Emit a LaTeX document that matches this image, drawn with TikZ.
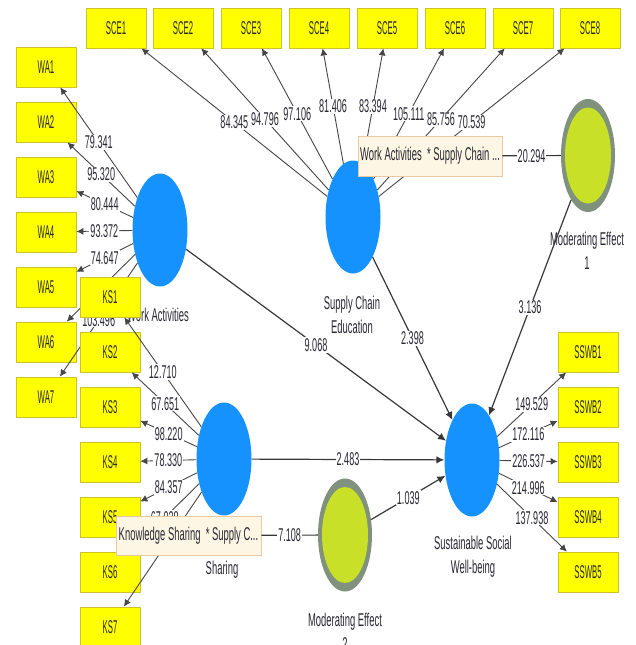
\documentclass[tikz,border=0pt]{standalone}
\usepackage{fontspec}
\usetikzlibrary{shapes.geometric,arrows.meta}
\newfontfamily\boxfont[FakeStretch=0.42]{Liberation Sans}
\newfontfamily\numfont[FakeStretch=0.49]{Liberation Sans}
\newfontfamily\labfont[FakeStretch=0.51]{Liberation Sans}
\definecolor{boxyellow}{RGB}{255,255,0}
\definecolor{boxedge}{RGB}{205,195,40}
\definecolor{lvblue}{RGB}{22,146,255}
\definecolor{modgreen}{RGB}{200,225,40}
\definecolor{modgrey}{RGB}{128,145,125}
\definecolor{tipfill}{RGB}{253,246,228}
\definecolor{tipedge}{RGB}{235,200,160}
\definecolor{txt}{RGB}{40,40,50}
\definecolor{ln}{RGB}{70,70,70}
\begin{document}
\begin{tikzpicture}[x=1pt,y=-1pt,
 ind/.style={rectangle, fill=boxyellow, draw=boxedge, line width=0.8pt, minimum width=60pt, minimum height=40pt, inner sep=0pt, font=\boxfont\fontsize{18.5}{20}\selectfont, text=txt},
 lv/.style={ellipse, fill=lvblue, minimum width=55pt, minimum height=113pt, inner sep=0pt},
 modout/.style={ellipse, fill=modgrey, minimum width=54pt, minimum height=113pt, inner sep=0pt},
 modin/.style={ellipse, fill=modgreen, minimum width=46pt, minimum height=96pt, inner sep=0pt},
 lbl/.style={font=\labfont\fontsize{18.5}{24}\selectfont, text=txt, align=center, inner sep=0pt},
 num/.style={font=\numfont\fontsize{18.5}{20}\selectfont, text=txt, fill=white, inner sep=1pt, midway},
 load/.style={draw=ln, line width=0.9pt, -{Latex[length=7pt,width=7pt]}},
 strpath/.style={draw=ln!80!black, line width=1.2pt, -{Latex[length=8pt,width=7.5pt]}},
 modline/.style={draw=ln!80!black, line width=1.2pt},
 tooltip/.style={rectangle, fill=tipfill, draw=tipedge, line width=0.8pt, inner sep=0pt, font=\labfont\fontsize{18.5}{20}\selectfont, text=txt},
]
\useasboundingbox (0,0) rectangle (636,645);

% latent variables
\node[lv] (wa) at (160,230) {};
\node[lv] (sce) at (353,217) {};
\node[lv] (ks) at (224,459) {};
\node[lv] (ssw) at (472,460) {};
\node[modout] (me1) at (588,155.5) {};
\node[modin] (me1i) at (588,155.5) {};
\node[modout] (me2) at (345,535) {};
\node[modin] (me2i) at (345,535) {};

% labels of latent variables
\node[lbl] (lwa) at (158,315) {Work Activities};
\node[lbl] (lsce) at (352,315) {Supply Chain\\Education};
\node[lbl] (lme1) at (587,251) {Moderating Effect\\1};
\node[lbl] (lks) at (222,570) {Sharing};
\node[lbl] (lssw) at (473,557) {Sustainable Social\\Well-being};
\node[lbl] (lme2) at (345,632) {Moderating Effect\\2};

% SCE indicators
\foreach \i/\x in {1/116,2/183,3/251,4/319,5/387,6/455,7/523,8/590}
  \node[ind] (sce\i) at (\x,28) {SCE\i};
\foreach \i/\v in {1/84.345,2/94.796,3/97.106,4/81.406,5/83.394,6/105.111,7/85.756,8/70.539}
  \draw[load] (sce) -- node[num] {\v} (sce\i);

% WA indicators
\foreach \i/\y in {1/67,2/122,3/177,4/232,5/287,6/342,7/397}
  \node[ind] (wa\i) at (46,\y) {WA\i};
\foreach \i/\v in {1/79.341,2/95.320,3/80.444,4/93.372,5/74.647,7/103.496}
  \draw[load] (wa) -- node[num] {\v} (wa\i);
\draw[load] (wa) -- (wa6);

% structural paths
\draw[strpath] (wa) -- node[num] {9.068} (ssw);
\draw[strpath] (sce) -- node[num] {2.398} (ssw);
\draw[strpath] (me1) -- node[num] {3.136} (ssw);
\draw[strpath] (ks) -- node[num] {2.483} (ssw);
\draw[strpath] (me2) -- node[num] {1.039} (ssw);

% KS indicators
\foreach \i/\y in {1/297,2/352,3/407,4/462,5/517,6/572,7/627}
  \node[ind] (ks\i) at (110,\y) {KS\i};
\foreach \i/\v in {1/12.710,2/67.651,3/98.220,4/78.330,5/84.357,6/67.028}
  \draw[load] (ks) -- node[num] {\v} (ks\i);
\draw[load] (ks) -- (ks7);

% SSWB indicators
\foreach \i/\y in {1/352,2/407,3/462,4/517,5/572}
  \node[ind] (sswb\i) at (588,\y) {SSWB\i};
\foreach \i/\v in {1/149.529,2/172.116,3/226.537,4/214.996,5/137.938}
  \draw[load] (ssw) -- node[num] {\v} (sswb\i);

% interaction term boxes
\node[tooltip, minimum width=144pt, minimum height=40pt] (t1) at (430,156) {Work Activities \ * Supply Chain ...};
\node[tooltip, minimum width=145pt, minimum height=39pt] (t2) at (188.5,535.5) {Knowledge Sharing \ * Supply C...};
\draw[modline] (t1) -- node[num] {20.294} (me1);
\draw[modline] (t2) -- node[num] {7.108} (me2);
\end{tikzpicture}
\end{document}
